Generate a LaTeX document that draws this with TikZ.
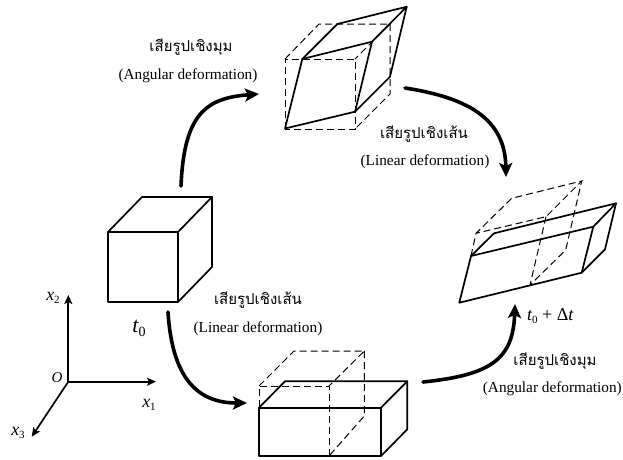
\documentclass[tikz,border=0pt]{standalone}
\usepackage{fontspec}
\setmainfont{Liberation Serif}
\newfontfamily\thaifont[Script=Thai]{Loma}
\usetikzlibrary{arrows.meta}
\newcommand{\varsub}[2]{{\itshape #1}\raisebox{-3.5pt}{\fontsize{11}{11}\selectfont #2}}
\tikzset{
 solidedge/.style={line width=1.7pt,line join=round,line cap=round},
 dashedge/.style={line width=1pt,dash pattern=on 7pt off 4pt},
 flow/.style={line width=3.6pt,line cap=round,-{Stealth[length=14pt,width=13pt,inset=3pt]}},
 axis/.style={line width=1.7pt,-{Stealth[length=9pt,width=8pt,inset=2pt]}},
 thlabel/.style={font=\thaifont\fontsize{15}{17}\selectfont,inner sep=0pt},
 enlabel/.style={font=\fontsize{15.3}{18}\selectfont,inner sep=0pt},
 symlabel/.style={font=\fontsize{18}{20}\selectfont,inner sep=0pt},
}
\begin{document}
\begin{tikzpicture}[x=1pt,y=-1pt]
\useasboundingbox[fill=white] (0,0) rectangle (623,459);

% initial cube
\draw[solidedge] (108,232) rectangle (178,302);
\draw[solidedge] (108,232) -- (142,197) -- (212,197) -- (178,232);
\draw[solidedge] (212,197) -- (212,267) -- (178,302);

% top sheared shape: reference cube
\draw[dashedge] (285,129) -- (285,59) -- (355,59) -- (355,129) -- cycle;
\draw[dashedge] (285,59) -- (319,24) -- (390,24) -- (355,59);
\draw[dashedge] (390,24) -- (390,94) -- (355,129);
% top sheared shape
\draw[solidedge] (285,128.5) -- (302.3,59) -- (372,41.7) -- (355,111.7) -- cycle;
\draw[solidedge] (302.3,59) -- (337.3,24) -- (406.7,6.7) -- (372,41.7);
\draw[solidedge] (406.7,6.7) -- (390,76.7) -- (355,111.7);

% bottom stretched shape: reference cube
\draw[dashedge] (259,407) -- (259,386) -- (329,386) -- (329,456);
\draw[dashedge] (259,386) -- (294,351) -- (364.3,351) -- (329,386);
\draw[dashedge] (364.3,351) -- (364.3,416) -- (329,456);
% bottom stretched shape
\draw[line width=2.2pt,line join=round] (259,407.7) rectangle (381,456);
\draw[solidedge] (259,407.7) -- (285,381.3) -- (407.3,381.3) -- (381,407.7);
\draw[solidedge] (407.3,381.3) -- (407.3,429.3) -- (381,456);

% final shape: reference
\draw[dashedge] (471,256) -- (476,233.3) -- (511.7,198.3) -- (581.7,181) -- (546,216.7) -- (476,233.3);
\draw[dashedge] (546,216.7) -- (530,285) -- (565.7,250) -- (581.7,181);
% final shape
\draw[solidedge] (459.3,302.7) -- (471,256) -- (593.3,226.7) -- (581.7,272.7) -- cycle;
\draw[solidedge] (471,256) -- (494,233.3) -- (616,203.3) -- (593.3,226.7);
\draw[solidedge] (616,203.3) -- (605,249.3) -- (581.7,272.7);

% axes
\coordinate (O) at (68.3,381.7);
\coordinate (X1) at (156,381.7);
\coordinate (X2) at (68.3,295);
\coordinate (X3) at (31.7,436.7);
\draw[axis] (O) -- (X1);
\draw[axis] (O) -- (X2);
\draw[axis] (O) -- (X3);
\node[font=\fontsize{15}{17}\selectfont,inner sep=0pt] (lo) at (57,378) {\itshape O};
\node[symlabel] (lx1) at (149,405) {\varsub{x}{1}};
\node[symlabel] (lx2) at (53,298) {\varsub{x}{2}};
\node[symlabel] (lx3) at (18,433) {\varsub{x}{3}};
\node[font=\fontsize{22}{24}\selectfont,inner sep=0pt] (lt0) at (139,328) {\itshape t\raisebox{-4pt}{\fontsize{14}{14}\selectfont\upshape 0}};
\node[symlabel,anchor=west] (ltd) at (527,316) {{\itshape t}\raisebox{-3.5pt}{\fontsize{11}{11}\selectfont 0} + Δ{\itshape t}};

% flow arrows
\coordinate (a1s) at (181,186);
\coordinate (a1e) at (259,94);
\coordinate (a2s) at (405,88);
\coordinate (a2e) at (506,177);
\coordinate (a3s) at (168,312);
\coordinate (a3e) at (247,403);
\coordinate (a4s) at (423,382);
\coordinate (a4e) at (515,304);
\draw[flow] (a1s) .. controls (184,115) and (205,98) .. (a1e);
\draw[flow] (a2s) .. controls (470,98) and (505,120) .. (a2e);
\draw[flow] (a3s) .. controls (172,375) and (195,403) .. (a3e);
\draw[flow] (a4s) .. controls (490,375) and (513,360) .. (a4e);

% labels
\node[thlabel] (t1) at (191,47) {เสียรูปเชิงมุม};
\node[enlabel] (e1) at (188,76) {(Angular deformation)};
\node[thlabel] (t2) at (424,134) {เสียรูปเชิงเส้น};
\node[enlabel] (e2) at (425,162) {(Linear deformation)};
\node[thlabel] (t3) at (258,300) {เสียรูปเชิงเส้น};
\node[enlabel] (e3) at (258,329) {(Linear deformation)};
\node[thlabel] (t4) at (555,361) {เสียรูปเชิงมุม};
\node[enlabel,anchor=east] (e4) at (622,389) {(Angular deformation)};
\end{tikzpicture}
\end{document}
